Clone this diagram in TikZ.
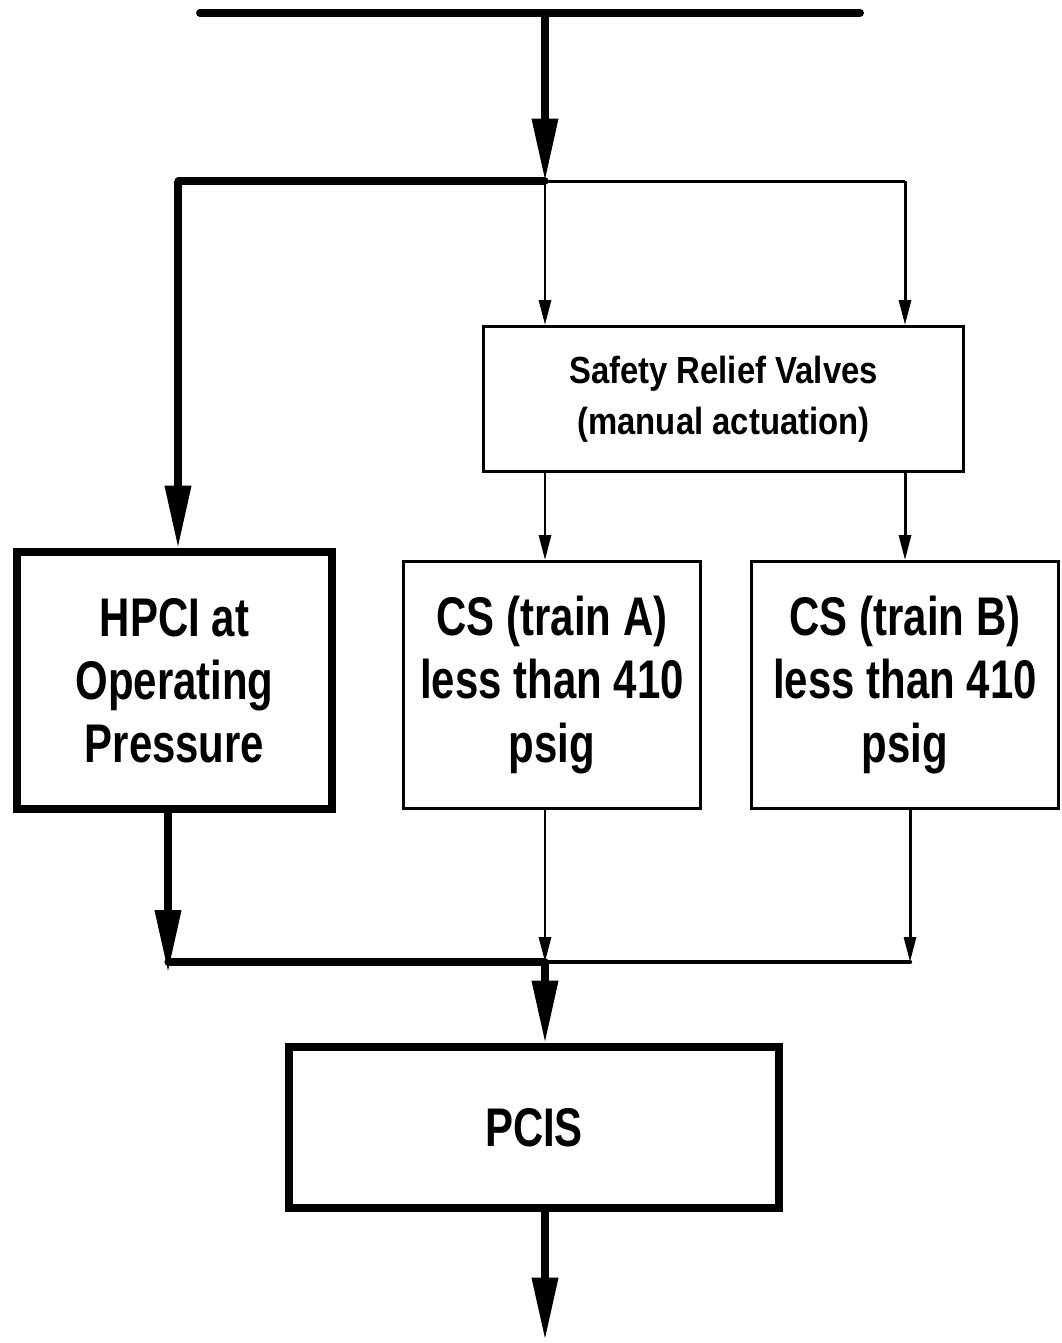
\documentclass[tikz,border=0pt]{standalone}
\usepackage{fontspec}
\setmainfont{Liberation Sans}
\newfontfamily\bigfont{Liberation Sans Bold}[FakeStretch=0.77]
\newfontfamily\srvfont{Liberation Sans Bold}[FakeStretch=0.87]
\usetikzlibrary{arrows.meta,positioning}

\begin{document}
\begin{tikzpicture}[
  x=0.02cm,y=-0.02cm,
  heavy/.style={line width=4pt},
  light/.style={line width=1.7pt},
  bigarr/.style={heavy,-{Triangle[length=1.25cm,width=0.5cm]}},
  smallarr/.style={light,-{Triangle[length=0.5cm,width=0.24cm]}},
  thickbox/.style={draw,line width=4.5pt,inner sep=0pt,align=center,
    font={\bigfont\fontsize{31}{36}\selectfont}},
  thinbox/.style={draw,line width=1.7pt,inner sep=0pt,align=center,
    font={\bigfont\fontsize{31}{36}\selectfont}}
]
\useasboundingbox (0,0) rectangle (1062,1343);

\coordinate (tl) at (200,13);
\coordinate (tr) at (860,13);
\coordinate (tsplit) at (545,13);
\coordinate (j1) at (545,181);
\coordinate (jleft) at (178,181);
\coordinate (jright) at (905,181);
\coordinate (bl) at (168,962);
\coordinate (j2) at (545,962);
\coordinate (br) at (910,962);
\coordinate (out) at (545,1340);

\node[thinbox,minimum width=9.6cm,minimum height=2.9cm,
  font={\srvfont\fontsize{21.5}{29}\selectfont}] (srv) at (723.5,399)
  {Safety Relief Valves\\(manual actuation)};

\node[thickbox,minimum width=6.3cm,minimum height=5.14cm] (hpci) at (174.5,680.5)
  {HPCI at\\Operating\\Pressure};
\node[thinbox,minimum width=5.94cm,minimum height=4.94cm] (csa) at (552,685)
  {CS (train A)\\less than 410\\psig};
\node[thinbox,minimum width=6.14cm,minimum height=4.94cm] (csb) at (905,685)
  {CS (train B)\\less than 410\\psig};

\node[thickbox,minimum width=9.8cm,minimum height=3.22cm] (pcis) at (534,1127.5)
  {PCIS};

\draw[line width=4.5pt,line cap=round] (tl) -- (tr);
\draw[bigarr] (tsplit) -- (j1);

\draw[heavy,line cap=round] (j1) -- (jleft);
\draw[bigarr] (jleft) -- (hpci.north -| jleft);
\draw[light] (j1) -- (jright);
\draw[smallarr] (j1) -- (srv.north -| j1);
\draw[smallarr] (jright) -- (srv.north -| jright);

\draw[smallarr] (srv.south -| j1) -- (csa.north -| j1);
\draw[smallarr] (srv.south -| jright) -- (csb.north -| jright);

\draw[bigarr] (hpci.south -| bl) -- ([yshift=-6pt]bl);
\draw[smallarr] (csa.south -| j2) -- (j2);
\draw[smallarr] (csb.south -| br) -- (br);
\draw[heavy,line cap=round] (bl) -- (j2);
\draw[line width=2.5pt,line cap=round] (j2) -- (br);

\draw[bigarr] (j2) -- (pcis.north -| j2);
\draw[bigarr] (pcis.south -| j2) -- (out);

\end{tikzpicture}
\end{document}
